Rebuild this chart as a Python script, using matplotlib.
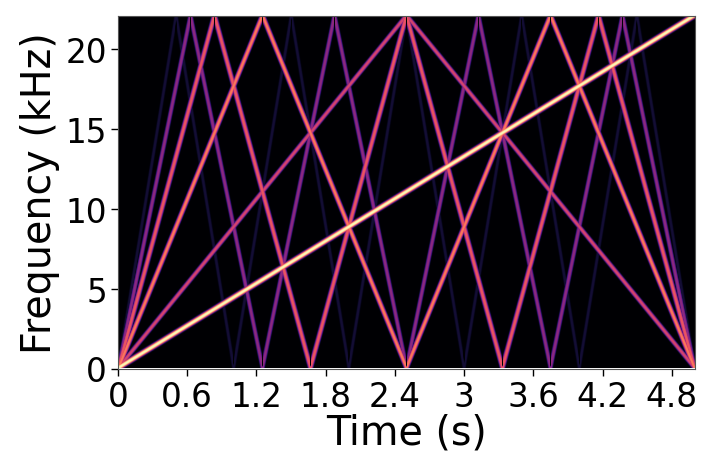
"""Spectrogram of a swept tone and its aliased even harmonics."""

import numpy as np
import matplotlib

matplotlib.use("Agg")
import matplotlib.pyplot as plt

DURATION = 5.0
NYQUIST = 22.05

# fold points of each partial: (time s, freq kHz)
h1_t = [0.0, 5.0]
h1_f = [0.0, 22.05]
h2_t = [0.0, 2.5, 5.0]
h2_f = [0.0, 22.05, 0.0]
h4_t = [0.0, 1.25, 2.5, 3.75, 5.0]
h4_f = [0.0, 22.05, 0.0, 22.05, 0.0]
h6_t = [0.0, 0.833, 1.667, 2.5, 3.333, 4.167, 5.0]
h6_f = [0.0, 22.05, 0.0, 22.05, 0.0, 22.05, 0.0]
h8_t = [0.0, 0.625, 1.25, 1.875, 2.5, 3.125, 3.75, 4.375, 5.0]
h8_f = [0.0, 22.05, 0.0, 22.05, 0.0, 22.05, 0.0, 22.05, 0.0]
h10_t = [0.0, 0.5, 1.0, 1.5, 2.0, 2.5, 3.0, 3.5, 4.0, 4.5, 5.0]
h10_f = [0.0, 22.05, 0.0, 22.05, 0.0, 22.05, 0.0, 22.05, 0.0, 22.05, 0.0]

# partial, peak colormap level, smear of the track in seconds
partials = [
    (h1_t, h1_f, 0.99, 0.028),
    (h2_t, h2_f, 0.58, 0.016),
    (h4_t, h4_f, 0.72, 0.016),
    (h6_t, h6_f, 0.64, 0.016),
    (h8_t, h8_f, 0.40, 0.014),
    (h10_t, h10_f, 0.10, 0.012),
]

xtick_values = [0, 0.6, 1.2, 1.8, 2.4, 3, 3.6, 4.2, 4.8]
xtick_labels = ["0", "0.6", "1.2", "1.8", "2.4", "3", "3.6", "4.2", "4.8"]
ytick_values = [0, 5, 10, 15, 20]

times = np.linspace(0, DURATION, 577)
freqs = np.linspace(0, NYQUIST, 513)
grid_t, grid_f = np.meshgrid(times, freqs)
spec = np.zeros_like(grid_t)

# each partial is smeared by the analysis window, more where it sweeps fast
for part_t, part_f, level, smear in partials:
    track = np.interp(times, part_t, part_f)
    rate = np.abs(np.gradient(track, times))
    width = np.sqrt(0.08**2 + (rate * smear) ** 2)
    dist = np.abs(grid_f - track[None, :]) / width[None, :]
    spec = np.maximum(spec, level * np.exp(-0.5 * dist**3))

fig = plt.figure(figsize=(7.18, 4.6), dpi=100)
ax = fig.add_axes([118 / 718, 1 - 369.5 / 460, 577 / 718, 352.5 / 460])
ax.imshow(
    spec,
    origin="lower",
    aspect="auto",
    cmap="magma",
    vmin=0,
    vmax=1,
    extent=[0, DURATION, 0, NYQUIST],
    interpolation="bilinear",
)
ax.set_xticks(xtick_values, xtick_labels)
ax.set_yticks(ytick_values)
ax.tick_params(labelsize=23.5, length=5, width=1, pad=3)
ax.set_xlabel("Time (s)", fontsize=28.5, labelpad=0)
ax.set_ylabel("Frequency (kHz)", fontsize=28.5, labelpad=4)
for spine in ax.spines.values():
    spine.set_color("#555555")

fig.savefig("out.png", dpi=100)
